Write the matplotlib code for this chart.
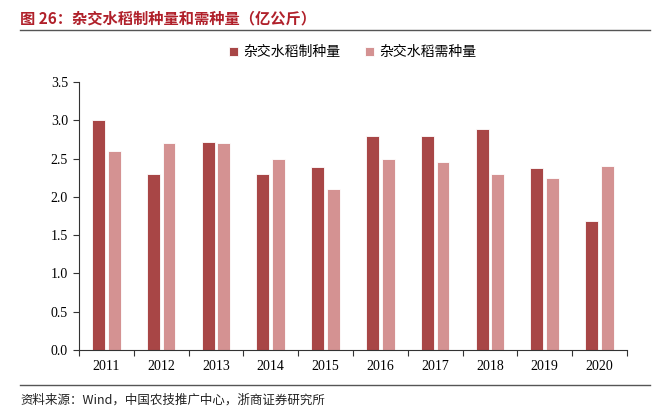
import matplotlib
matplotlib.use("Agg")
import matplotlib.pyplot as plt
import numpy as np

years = ["2011", "2012", "2013", "2014", "2015", "2016", "2017", "2018", "2019", "2020"]
seed_made = [3.0, 2.3, 2.72, 2.3, 2.39, 2.8, 2.8, 2.88, 2.38, 1.68]
seed_needed = [2.6, 2.7, 2.7, 2.5, 2.1, 2.5, 2.45, 2.3, 2.25, 2.4]

cjk = ["Noto Sans CJK SC", "DejaVu Sans"]
serif = ["Liberation Serif", "Noto Sans CJK SC"]
dark = "#A84646"
light = "#D49292"

fig = plt.figure(figsize=(6.53, 4.18), dpi=100)
ax = fig.add_axes([0.121, 0.1627, 0.839, 0.6411])

x = np.arange(len(years))
w = 0.235
ax.bar(x - 0.143, seed_made, w, color=dark, edgecolor="white", linewidth=0.6, label="杂交水稻制种量")
ax.bar(x + 0.143, seed_needed, w, color=light, edgecolor="white", linewidth=0.6, label="杂交水稻需种量")

ax.set_xlim(-0.5, len(years) - 0.5)
ax.set_ylim(0, 3.5)
ticks = np.arange(0, 3.51, 0.5)
ax.set_yticks(ticks)
ax.set_yticklabels([f"{v:.1f}" for v in ticks], family=serif, fontsize=10)
ax.set_xticks(x)
ax.set_xticklabels(years, family=serif, fontsize=10)
ax.tick_params(axis="x", length=0, pad=7)
ax.set_xticks(np.arange(-0.5, len(years), 1), minor=True)
ax.tick_params(axis="x", which="minor", length=4, width=0.8, color="#333333")
ax.tick_params(axis="y", length=4, width=0.8, color="#333333", pad=4)
for s in ["top", "right"]:
    ax.spines[s].set_visible(False)
for s in ["left", "bottom"]:
    ax.spines[s].set_color("#333333")
    ax.spines[s].set_linewidth(0.8)

ax.legend(loc="center", bbox_to_anchor=(0.5, 1.112), ncol=2, frameon=False,
          prop={"family": cjk, "size": 10}, handlelength=0.6, handleheight=0.6,
          columnspacing=1.8, handletextpad=0.4)

fig.text(0.031, 0.957, "图 26：杂交水稻制种量和需种量（亿公斤）", family=cjk, fontsize=11,
         fontweight="bold", color="#B0202A", va="center")
fig.add_artist(plt.Line2D([0.031, 0.995], [0.928, 0.928], color="#555555", lw=1))
fig.add_artist(plt.Line2D([0.031, 0.995], [0.079, 0.079], color="#555555", lw=1))
fig.text(0.031, 0.043, "资料来源：Wind，中国农技推广中心，浙商证券研究所", family=cjk,
         fontsize=9, color="#222222", va="center")

fig.savefig("out.png", dpi=100)
